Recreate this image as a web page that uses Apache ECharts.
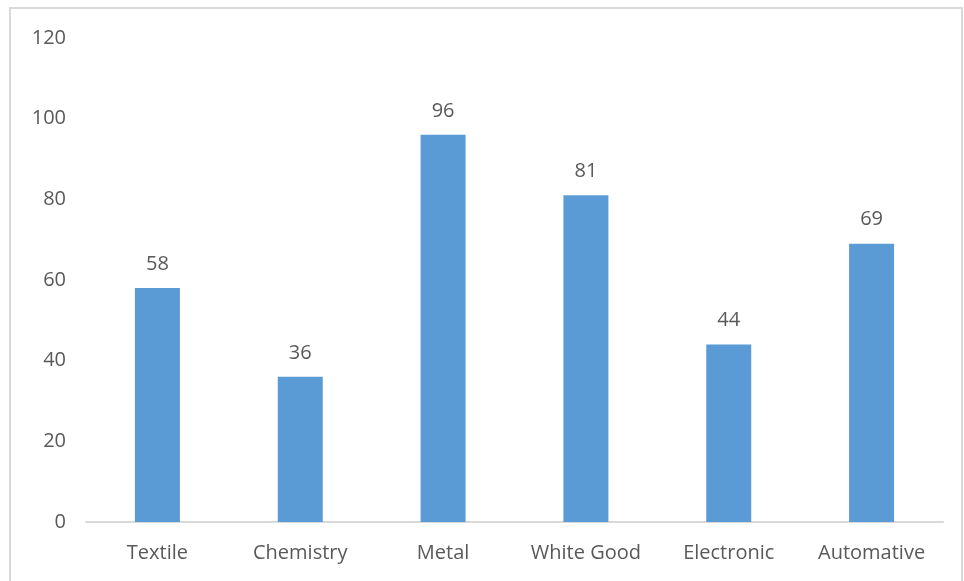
<!DOCTYPE html>
<html>
<head>
<meta charset="utf-8">
<script src="https://cdn.jsdelivr.net/npm/echarts@6/dist/echarts.min.js"></script>
<style>
  html, body { margin: 0; padding: 0; background: #fff; }
  #chart { width: 964px; height: 581px; }
</style>
</head>
<body>
<div id="chart"></div>
<script>
// sector names and counts
const sectors = ['Textile', 'Chemistry', 'Metal', 'White Good', 'Electronic', 'Automative'];
const counts = [58, 36, 96, 81, 44, 69];
const yTicks = { min: 0, max: 120, step: 20 };

const chart = echarts.init(document.getElementById('chart'));

const textColor = '#595959';
const font = 'Open Sans, Liberation Sans, sans-serif';

chart.setOption({
  animation: false,
  textStyle: { fontFamily: font },
  graphic: [{
    type: 'rect',
    shape: { x: 10, y: 8, width: 952, height: 590 },
    style: { fill: 'none', stroke: '#d9d9d9', lineWidth: 2 },
    silent: true
  }],
  grid: { left: 86, right: 21, top: 38, bottom: 59 },
  xAxis: {
    type: 'category',
    data: sectors,
    axisLine: { lineStyle: { color: '#d9d9d9', width: 2 } },
    axisTick: { show: false },
    axisLabel: {
      color: textColor, fontSize: 20, margin: 21, fontFamily: font,
      interval: 0, hideOverlap: false
    }
  },
  yAxis: {
    type: 'value',
    min: yTicks.min,
    max: yTicks.max,
    interval: yTicks.step,
    axisLine: { show: false },
    axisTick: { show: false },
    splitLine: { show: false },
    axisLabel: { color: textColor, fontSize: 20, margin: 20, fontFamily: font }
  },
  series: [{
    type: 'bar',
    data: counts,
    barWidth: '31.5%',
    itemStyle: { color: '#5b9bd5' },
    label: {
      show: true,
      position: 'top',
      distance: 14,
      color: textColor,
      fontSize: 20,
      fontFamily: font
    }
  }]
});
</script>
</body>
</html>
